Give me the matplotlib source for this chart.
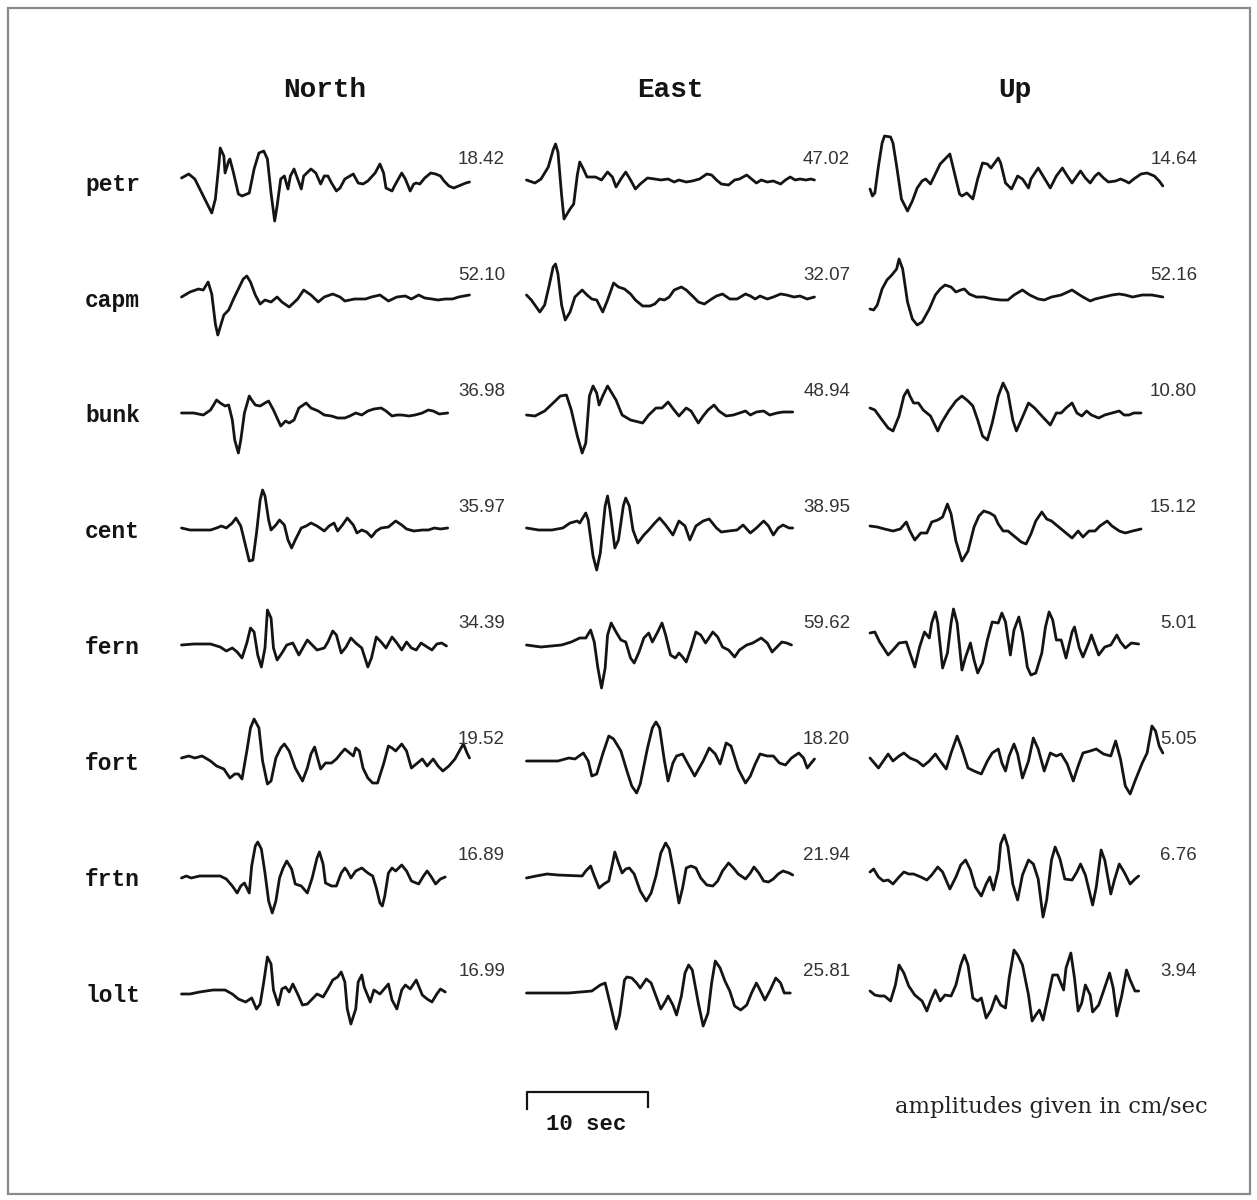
import matplotlib
matplotlib.use("Agg")
import matplotlib.pyplot as plt
from matplotlib.patches import Rectangle

# Ground velocity traces for 8 stations, 3 components.
# Each trace is a list of (time [s], relative amplitude) picks.

STATIONS = ["petr", "capm", "bunk", "cent", "fern", "fort", "frtn", "lolt"]
COMPONENTS = ["North", "East", "Up"]

# peak amplitude of each trace in cm/sec
PEAK_NORTH = ["18.42", "52.10", "36.98", "35.97", "34.39", "19.52", "16.89", "16.99"]
PEAK_EAST = ["47.02", "32.07", "48.94", "38.95", "59.62", "18.20", "21.94", "25.81"]
PEAK_UP = ["14.64", "52.16", "10.80", "15.12", "5.01", "5.05", "6.76", "3.94"]

# ---- North component ----
PETR_N = [(0, 3), (0.6, 7), (1.1, 2), (1.8, -15), (2.5, -32), (2.8, -18), (3.1, 18), (3.2, 33),
          (3.5, 25), (3.6, 8), (3.9, 20), (4.0, 22), (4.3, 8), (4.7, -13), (5.0, -15), (5.6, -12),
          (6.0, 12), (6.4, 28), (6.8, 30), (7.1, 22), (7.4, -12), (7.7, -40), (7.9, -25), (8.2, 2),
          (8.5, 5), (8.8, -8), (9.0, 5), (9.3, 12), (9.6, 2), (9.9, -8), (10.1, 5), (10.7, 12),
          (11.1, 8), (11.5, -3), (11.8, 5), (12.1, 5), (12.4, -2), (12.8, -10), (13.1, -7), (13.5, 2),
          (14.2, 7), (14.6, -2), (15.0, -3), (15.4, 0), (16.0, 8), (16.4, 17), (16.7, 8), (16.9, -7),
          (17.4, -10), (17.6, -5), (18.2, 8), (18.5, 2), (18.9, -10), (19.2, -3), (19.4, -2), (19.7, -3),
          (20.1, 3), (20.6, 8), (21.0, 7), (21.4, 5), (21.7, 0), (22.1, -5), (22.5, -7), (22.9, -5),
          (23.5, -2), (23.8, -1)]
CAPM_N = [(0, 0), (0.7, 5), (1.4, 8), (1.8, 7), (2.2, 15), (2.5, 3), (2.8, -27), (3.0, -38),
          (3.2, -30), (3.5, -18), (3.9, -13), (4.3, -2), (4.7, 8), (5.1, 18), (5.4, 21), (5.7, 15),
          (6.1, 2), (6.5, -7), (6.9, -3), (7.4, -5), (7.9, 0), (8.3, -5), (8.9, -10), (9.6, -2),
          (10.1, 7), (10.7, 2), (11.3, -5), (11.8, 0), (12.5, 3), (13.1, 0), (13.5, -4), (14.3, -2),
          (15.2, -2), (15.7, 0), (16.4, 2), (17.1, -4), (17.8, 0), (18.5, 1), (19.0, -2), (19.6, 2),
          (20.1, -1), (20.7, -2), (21.2, -3), (21.8, -2), (22.4, -2), (22.9, 0), (23.8, 2)]
BUNK_N = [(0, 0), (1.0, 0), (1.8, -2), (2.4, 3), (2.9, 13), (3.2, 10), (3.6, 7), (3.9, 8),
          (4.2, -7), (4.4, -27), (4.7, -40), (4.9, -27), (5.2, 0), (5.6, 17), (5.8, 13), (6.1, 8),
          (6.5, 7), (6.9, 10), (7.2, 12), (7.6, 3), (8.2, -13), (8.6, -8), (8.9, -10), (9.3, -7),
          (9.7, 5), (10.3, 10), (10.7, 5), (11.3, 2), (11.8, -2), (12.4, -3), (12.9, -5), (13.5, -5),
          (13.9, -3), (14.4, 0), (14.9, -2), (15.4, 2), (15.9, 4), (16.5, 5), (16.9, 2), (17.4, -3),
          (17.8, -2), (18.2, -2), (18.8, -3), (19.3, -2), (19.9, 0), (20.4, 3), (20.8, 2), (21.3, -1),
          (22.0, 0)]
CENT_N = [(0, 1), (0.7, -1), (1.2, -1), (2.4, -1), (2.9, 1), (3.3, 3), (3.7, 1), (4.2, 6),
          (4.5, 11), (4.9, 3), (5.3, -17), (5.6, -32), (5.9, -31), (6.2, -4), (6.5, 29), (6.7, 39),
          (6.9, 33), (7.2, 9), (7.4, -1), (7.8, 4), (8.1, 9), (8.5, 4), (8.8, -11), (9.1, -19),
          (9.4, -11), (9.9, 1), (10.3, 3), (10.7, 6), (11.2, 3), (11.8, -2), (12.2, 3), (12.6, 6),
          (12.9, -2), (13.3, 4), (13.7, 11), (14.2, 4), (14.5, -4), (14.9, -1), (15.3, -3), (15.7, -8),
          (16.1, -2), (16.5, 1), (17.1, 2), (17.7, 8), (18.2, 4), (18.6, 0), (19.2, -2), (19.9, -1),
          (20.4, -1), (20.9, 1), (21.4, 0), (22.0, 1)]
FERN_N = [(0, 0), (1.0, 1), (2.4, 1), (3.2, -2), (3.7, -6), (4.2, -3), (4.6, -7), (5.0, -13),
          (5.4, 2), (5.7, 17), (6.0, 13), (6.3, -10), (6.6, -22), (6.9, -3), (7.1, 35), (7.4, 27),
          (7.6, -3), (7.9, -15), (8.3, -8), (8.7, 0), (9.2, 2), (9.7, -10), (10.4, 5), (10.8, 0),
          (11.2, -5), (11.8, -3), (12.1, 3), (12.5, 14), (12.8, 10), (13.2, -8), (13.6, -2), (14.0, 7),
          (14.4, 2), (14.9, -3), (15.4, -22), (15.7, -13), (16.1, 8), (16.5, 3), (16.9, -3), (17.4, 8),
          (17.8, 2), (18.2, -5), (18.6, 3), (19.0, -3), (19.4, -5), (19.8, 2), (20.3, -2), (20.7, -5),
          (21.1, 1), (21.5, 2), (21.9, -1)]
FORT_N = [(0, 3), (0.6, 5), (1.1, 3), (1.7, 5), (2.4, 0), (2.9, -5), (3.5, -8), (4.0, -17),
          (4.4, -13), (4.7, -13), (5.0, -18), (5.4, 10), (5.7, 33), (6.0, 42), (6.4, 33), (6.7, 0),
          (7.1, -23), (7.4, -20), (7.8, 3), (8.2, 13), (8.5, 17), (8.9, 10), (9.4, -7), (10.0, -20),
          (10.4, -7), (10.7, 7), (11.0, 14), (11.2, 5), (11.5, -8), (11.9, -2), (12.4, -2), (12.8, 2),
          (13.2, 8), (13.5, 12), (13.9, 8), (14.2, 5), (14.4, 13), (14.7, 10), (15.0, -7), (15.4, -17),
          (15.8, -22), (16.2, -22), (16.7, -3), (17.1, 15), (17.4, 13), (17.7, 10), (18.2, 17), (18.6, 10),
          (19.0, -7), (19.4, -3), (19.9, 2), (20.3, -5), (20.8, 2), (21.2, -5), (21.6, -10), (22.1, -5),
          (22.6, 2), (23.1, 13), (23.3, 17), (23.6, 8), (23.8, 3)]
FRTN_N = [(0, -1), (0.4, 1), (0.8, -1), (1.5, 1), (3.2, 1), (3.7, -2), (4.2, -9), (4.6, -16),
          (4.9, -9), (5.2, -6), (5.6, -16), (5.8, 11), (6.1, 31), (6.3, 35), (6.6, 28), (6.9, 4),
          (7.2, -24), (7.5, -36), (7.8, -24), (8.1, -1), (8.4, 9), (8.7, 16), (9.1, 8), (9.4, -7),
          (9.9, -9), (10.4, -16), (10.8, -1), (11.2, 19), (11.4, 25), (11.7, 13), (11.9, -6), (12.4, -9),
          (12.8, -9), (13.2, 4), (13.5, 9), (13.7, 6), (14.0, -1), (14.4, 6), (14.9, 9), (15.4, 4),
          (15.8, 1), (16.1, -11), (16.4, -26), (16.6, -29), (16.8, -19), (17.1, 4), (17.4, 9), (17.7, 6),
          (18.2, 12), (18.6, 6), (19.0, -4), (19.6, -7), (20.0, 1), (20.3, 6), (20.6, 1), (21.0, -7),
          (21.4, -2), (21.8, 0)]
LOLT_N = [(0, -1), (0.7, -1), (1.5, 1), (2.6, 3), (3.6, 3), (4.2, -1), (4.7, -6), (5.3, -9),
          (5.8, -5), (6.2, -16), (6.5, -11), (6.8, 11), (7.1, 36), (7.4, 29), (7.6, 3), (8.0, -12),
          (8.3, 4), (8.6, 6), (8.9, 1), (9.2, 9), (9.6, -1), (10.0, -12), (10.4, -11), (10.8, -6),
          (11.2, -1), (11.7, -4), (12.1, 4), (12.5, 13), (12.9, 16), (13.2, 21), (13.5, 11), (13.7, -16),
          (14.0, -31), (14.4, -16), (14.6, 11), (14.9, 18), (15.1, 6), (15.6, -9), (15.9, 3), (16.4, -1),
          (17.1, 9), (17.4, -7), (17.8, -16), (18.2, 3), (18.5, 8), (18.9, 4), (19.4, 13), (19.9, -2),
          (20.3, -6), (20.7, -9), (21.1, -1), (21.4, 4), (21.8, 1)]

# ---- East component ----
PETR_E = [(0, 1), (0.7, -2), (1.2, 2), (1.8, 14), (2.2, 31), (2.4, 37), (2.6, 29), (2.9, -14),
          (3.1, -38), (3.3, -34), (3.6, -28), (3.9, -23), (4.2, 6), (4.4, 19), (4.7, 12), (5.0, 4),
          (5.7, 4), (6.2, 1), (6.7, 9), (7.1, 4), (7.4, -6), (7.8, 2), (8.2, 9), (8.6, 1),
          (9.0, -8), (9.4, -3), (10.0, 3), (10.6, 2), (11.1, 1), (11.7, 2), (12.2, -1), (12.6, 1),
          (13.2, -1), (13.7, 0), (14.3, 2), (14.9, 7), (15.3, 6), (15.7, 1), (16.1, -3), (16.7, -4),
          (17.2, 1), (17.6, 2), (18.2, 6), (18.6, 2), (19.0, -2), (19.4, 1), (19.9, -1), (20.4, 0),
          (21.0, -3), (21.4, 1), (21.8, 4), (22.2, 1), (22.6, 2), (23.1, 1), (23.5, 2), (23.8, 1)]
CAPM_E = [(0, 2), (0.4, -3), (1.1, -15), (1.5, -8), (1.9, 13), (2.2, 30), (2.4, 33), (2.6, 23),
          (2.9, -8), (3.2, -23), (3.6, -15), (4.0, 0), (4.6, 7), (5.0, 2), (5.4, -2), (5.8, -3),
          (6.3, -15), (6.7, -3), (7.2, 14), (7.6, 10), (8.1, 8), (8.6, 3), (9.0, -3), (9.6, -9),
          (10.2, -9), (10.6, -7), (11.0, -2), (11.4, -3), (11.8, 0), (12.2, 7), (12.8, 10), (13.2, 7),
          (13.8, 0), (14.2, -5), (14.7, -7), (15.3, -2), (15.7, 1), (16.2, 3), (16.8, -2), (17.4, -2),
          (18.1, 3), (18.5, 1), (18.9, -2), (19.3, 1), (19.9, -2), (20.4, 0), (21.0, 3), (21.5, 2),
          (22.1, 0), (22.6, 1), (23.2, -2), (23.8, 0)]
BUNK_E = [(0, -2), (0.7, -3), (1.5, 2), (2.2, 10), (2.8, 17), (3.3, 18), (3.7, 3), (4.2, -23),
          (4.6, -40), (4.9, -30), (5.2, 17), (5.5, 27), (5.8, 20), (6.0, 8), (6.3, 17), (6.7, 27),
          (6.9, 23), (7.4, 13), (7.9, -2), (8.6, -7), (9.6, -10), (10.1, -2), (10.7, 5), (11.2, 5),
          (11.7, 11), (12.2, 3), (12.6, -3), (13.2, 5), (13.6, 2), (14.2, -10), (14.6, -3), (15.0, 3),
          (15.5, 8), (15.9, 2), (16.5, -3), (17.1, -2), (17.6, 0), (18.1, 2), (18.5, -2), (19.0, 1),
          (19.6, 2), (20.1, -2), (20.7, 0), (21.2, 1), (22.0, 1)]
CENT_E = [(0, 1), (1.0, -1), (2.1, -1), (3.0, 1), (3.6, 6), (4.2, 8), (4.4, 6), (4.9, 16),
          (5.1, 9), (5.5, -27), (5.8, -41), (6.1, -24), (6.5, 23), (6.7, 33), (6.9, 19), (7.3, -19),
          (7.6, -11), (8.0, 23), (8.2, 31), (8.5, 23), (8.8, -1), (9.2, -14), (9.7, -6), (10.1, -1),
          (10.6, 6), (11.0, 11), (11.5, 4), (12.1, -6), (12.6, 8), (13.1, 3), (13.5, -11), (14.0, 3),
          (14.6, 8), (15.1, 10), (15.7, 1), (16.1, -3), (16.7, -2), (17.4, -1), (17.9, 4), (18.5, -4),
          (19.0, 1), (19.6, 8), (20.0, 3), (20.4, -6), (20.8, 1), (21.2, 4), (21.7, 1), (22.0, 1)]
FERN_E = [(0, 0), (1.2, -2), (2.9, 0), (3.7, 3), (4.4, 7), (4.9, 7), (5.3, 15), (5.6, 3),
          (5.9, -23), (6.2, -43), (6.5, -23), (6.7, 10), (7.0, 22), (7.4, 13), (7.8, 5), (8.2, 3),
          (8.6, -13), (8.9, -18), (9.3, -7), (9.7, 7), (10.1, 12), (10.4, 3), (10.8, 12), (11.2, 22),
          (11.5, 10), (11.9, -10), (12.3, -13), (12.6, -8), (12.9, -12), (13.2, -17), (13.6, -3), (14.0, 13),
          (14.4, 10), (14.8, 2), (15.4, 13), (15.8, 8), (16.2, -2), (16.7, -5), (17.2, -12), (17.6, -5),
          (18.2, 0), (18.7, 2), (19.4, 7), (19.9, 2), (20.3, -7), (20.7, -2), (21.1, 3), (21.5, 2),
          (21.9, 0)]
FORT_E = [(0, 0), (1.2, 0), (2.6, 0), (3.5, 3), (4.0, 2), (4.7, 8), (5.1, 0), (5.4, -15),
          (5.8, -13), (6.3, 7), (6.8, 25), (7.2, 22), (7.8, 10), (8.3, -10), (8.7, -25), (9.1, -32),
          (9.4, -23), (10.0, 13), (10.4, 33), (10.7, 39), (11.0, 33), (11.4, 0), (11.7, -20), (12.1, -2),
          (12.4, 5), (12.9, 7), (13.3, -2), (13.9, -15), (14.6, 0), (15.1, 13), (15.6, 7), (16.0, -3),
          (16.5, 18), (16.9, 15), (17.5, -8), (18.1, -22), (18.5, -15), (18.9, -3), (19.3, 7), (19.9, 5),
          (20.4, 5), (20.9, -2), (21.4, -4), (21.9, 3), (22.5, 8), (22.9, 3), (23.2, -7), (23.8, 2)]
FRTN_E = [(0, -1), (0.8, 1), (1.7, 3), (2.6, 2), (4.6, 1), (4.9, 6), (5.3, 11), (5.6, 1),
          (6.0, -11), (6.4, -7), (6.8, -4), (7.1, 13), (7.3, 25), (7.6, 14), (7.9, 4), (8.2, 8),
          (8.5, 9), (8.9, 3), (9.4, -14), (9.9, -24), (10.3, -16), (10.7, 1), (11.1, 24), (11.5, 34),
          (11.8, 28), (12.1, 9), (12.4, -12), (12.6, -26), (12.9, -11), (13.2, 9), (13.6, 11), (14.0, 9),
          (14.4, -1), (14.9, -8), (15.4, -9), (15.8, -4), (16.2, 6), (16.7, 14), (17.1, 9), (17.5, 3),
          (18.1, -2), (18.5, 4), (18.8, 10), (19.2, 4), (19.6, -4), (20.0, -5), (20.4, -2), (20.8, 3),
          (21.2, 6), (21.7, 4), (22.0, 2)]
LOLT_E = [(0, 0), (1.8, 0), (3.5, 0), (5.4, 2), (6.1, 8), (6.5, 10), (6.9, -10), (7.4, -36),
          (7.7, -22), (8.1, 13), (8.3, 16), (8.7, 15), (9.1, 10), (9.4, 5), (9.9, 14), (10.3, 10),
          (10.7, -3), (11.1, -16), (11.5, -8), (11.7, -3), (12.1, -12), (12.4, -22), (12.8, -3), (13.1, 20),
          (13.4, 28), (13.7, 23), (14.2, -10), (14.6, -33), (15.0, -20), (15.3, 10), (15.6, 32), (16.0, 25),
          (16.4, 12), (16.8, 2), (17.2, -13), (17.7, -17), (18.2, -12), (18.6, 0), (19.0, 10), (19.3, 3),
          (19.7, -7), (20.1, 2), (20.6, 15), (21.0, 10), (21.3, 0), (21.8, 0)]

# ---- Up component ----
PETR_U = [(0, -8), (0.2, -15), (0.4, -12), (0.7, 15), (1.0, 38), (1.2, 45), (1.7, 44), (1.9, 38),
          (2.2, 15), (2.6, -18), (3.1, -30), (3.5, -20), (3.9, -7), (4.3, 0), (4.6, 2), (5.0, -3),
          (5.4, 7), (5.8, 17), (6.2, 22), (6.6, 27), (6.9, 12), (7.4, -13), (7.6, -15), (8.0, -12),
          (8.5, -18), (8.9, 2), (9.3, 18), (9.7, 17), (10.0, 13), (10.6, 23), (10.8, 18), (11.2, -2),
          (11.7, -8), (12.2, 5), (12.6, 2), (13.1, -7), (13.3, 2), (13.9, 13), (14.3, 5), (14.9, -7),
          (15.4, 5), (15.9, 13), (16.2, 7), (16.7, -2), (17.1, 5), (17.4, 10), (17.8, 3), (18.2, -2),
          (18.6, 5), (18.9, 8), (19.3, 3), (19.7, -1), (20.3, 0), (20.7, 2), (21.1, 0), (21.4, -2),
          (21.8, 2), (22.4, 7), (22.9, 8), (23.5, 5), (23.9, 0), (24.2, -5)]
CAPM_U = [(0, -12), (0.3, -13), (0.6, -8), (1.0, 8), (1.4, 17), (1.8, 22), (2.2, 28), (2.4, 38),
          (2.7, 28), (3.1, -5), (3.5, -22), (3.9, -28), (4.3, -25), (4.9, -12), (5.4, 2), (5.8, 8),
          (6.2, 12), (6.7, 10), (7.1, 5), (7.5, 7), (7.8, 8), (8.2, 3), (8.8, 0), (9.4, 0),
          (10.1, -2), (10.8, -3), (11.4, -3), (11.9, 2), (12.6, 7), (13.2, 2), (13.9, -2), (14.4, -3),
          (15.0, 0), (15.8, 2), (16.7, 7), (17.2, 3), (17.6, 0), (18.2, -4), (18.6, -2), (19.3, 0),
          (20.0, 2), (20.6, 3), (21.1, 2), (21.7, 0), (22.5, 2), (23.3, 2), (24.2, 0)]
BUNK_U = [(0, 5), (0.4, 3), (1.0, -7), (1.5, -15), (1.9, -18), (2.4, -3), (2.8, 17), (3.1, 23),
          (3.3, 17), (3.6, 10), (4.0, 10), (4.4, 3), (5.0, -3), (5.6, -18), (5.9, -10), (6.5, 2),
          (7.1, 12), (7.6, 17), (8.1, 12), (8.5, 7), (8.9, -7), (9.3, -23), (9.7, -27), (10.1, -10),
          (10.6, 17), (11.0, 30), (11.4, 20), (11.8, -7), (12.1, -18), (12.5, -7), (13.1, 10), (13.6, 5),
          (14.2, -3), (14.9, -12), (15.4, 0), (15.8, 0), (16.2, 5), (16.7, 10), (17.1, 0), (17.5, -3),
          (17.9, 2), (18.3, -2), (18.9, -5), (19.4, -2), (20.0, 0), (20.6, 2), (21.0, -2), (21.4, -2),
          (21.8, 0), (22.4, 0)]
CENT_U = [(0, 3), (0.6, 2), (1.2, 0), (1.9, -2), (2.5, 0), (3.0, 7), (3.3, -2), (3.7, -11),
          (4.2, -4), (4.7, -4), (5.1, 7), (5.6, 9), (6.0, 12), (6.4, 25), (6.7, 15), (7.1, -12),
          (7.6, -32), (8.1, -22), (8.6, 2), (9.0, 13), (9.4, 18), (9.9, 16), (10.3, 13), (10.6, 5),
          (11.0, -2), (11.4, -2), (12.0, -8), (12.5, -13), (12.9, -15), (13.3, -5), (13.7, 8), (14.2, 17),
          (14.6, 10), (15.0, 8), (15.6, 2), (16.1, -3), (16.7, -9), (17.2, -2), (17.6, -8), (18.1, -2),
          (18.6, -2), (19.0, 3), (19.6, 8), (20.0, 3), (20.6, -2), (21.1, -4), (21.7, -2), (22.4, 0)]
FERN_U = [(0, 12), (0.4, 13), (0.8, 3), (1.5, -10), (1.9, -5), (2.4, 2), (3.0, 3), (3.3, -8),
          (3.7, -22), (4.1, -2), (4.5, 13), (4.9, 7), (5.1, 22), (5.4, 33), (5.6, 22), (6.0, -23),
          (6.4, -8), (6.7, 22), (6.9, 36), (7.2, 22), (7.6, -25), (7.9, -12), (8.3, 2), (8.6, -15),
          (8.9, -28), (9.3, -18), (9.7, 5), (10.1, 23), (10.6, 22), (10.9, 32), (11.2, 23), (11.6, -10),
          (11.9, 15), (12.3, 28), (12.6, 12), (13.0, -22), (13.3, -30), (13.7, -28), (14.2, -8), (14.5, 18),
          (14.8, 33), (15.1, 25), (15.4, 5), (15.8, 5), (16.2, -13), (16.7, 13), (16.9, 18), (17.3, -3),
          (17.6, -12), (18.1, 3), (18.3, 10), (18.6, 0), (18.9, -10), (19.4, -2), (19.9, 0), (20.4, 10),
          (20.7, 3), (21.1, -3), (21.6, 2), (22.2, 1)]
FORT_U = [(0, 3), (0.7, -7), (1.1, 0), (1.5, 7), (1.9, 0), (2.4, 5), (2.8, 8), (3.3, 3),
          (3.9, 0), (4.4, -5), (4.9, 0), (5.4, 7), (5.8, 0), (6.3, -8), (6.7, 8), (7.2, 25),
          (7.6, 12), (8.1, -7), (8.6, -10), (9.2, -13), (9.7, 0), (10.1, 8), (10.6, 12), (10.9, -2),
          (11.2, -10), (11.5, 5), (11.9, 17), (12.2, 7), (12.6, -17), (13.1, 0), (13.5, 23), (13.9, 12),
          (14.4, -10), (14.9, 8), (15.4, 5), (15.8, 7), (16.3, -3), (16.8, -20), (17.2, -5), (17.6, 8),
          (18.2, 10), (18.7, 12), (19.3, 7), (19.9, 5), (20.3, 20), (20.7, 2), (21.1, -25), (21.5, -33),
          (21.9, -20), (22.5, -2), (22.9, 8), (23.3, 35), (23.6, 30), (23.9, 15), (24.2, 8)]
FRTN_U = [(0, 5), (0.3, 8), (0.7, 0), (1.1, -4), (1.5, -3), (1.9, -7), (2.4, 0), (2.8, 5),
          (3.2, 3), (3.6, 3), (4.2, 0), (4.7, -3), (5.1, 2), (5.6, 10), (6.0, 5), (6.6, -12),
          (7.1, 0), (7.5, 12), (7.9, 17), (8.3, 7), (8.7, -10), (9.2, -19), (9.6, -7), (9.9, 0),
          (10.2, -13), (10.6, 7), (10.8, 33), (11.1, 42), (11.4, 30), (11.8, -7), (12.2, -23), (12.6, 2),
          (13.1, 17), (13.5, 13), (13.9, -2), (14.3, -40), (14.6, -23), (15.0, 17), (15.3, 30), (15.7, 18),
          (16.1, -2), (16.7, -3), (17.1, 5), (17.4, 13), (17.8, 2), (18.4, -28), (18.7, -10), (19.1, 27),
          (19.4, 17), (19.9, -17), (20.2, -3), (20.6, 13), (21.0, 5), (21.5, -7), (21.9, -2), (22.2, 1)]
LOLT_U = [(0, 2), (0.4, -2), (0.8, -3), (1.2, -3), (1.7, -8), (2.1, 8), (2.4, 28), (2.8, 20),
          (3.2, 7), (3.7, -2), (4.3, -8), (4.7, -18), (5.0, -8), (5.4, 3), (5.8, -8), (6.2, -2),
          (6.7, -3), (7.1, 8), (7.5, 28), (7.8, 38), (8.1, 28), (8.5, -5), (8.9, -8), (9.2, -5),
          (9.6, -25), (10.0, -17), (10.4, -3), (10.8, -12), (11.2, -15), (11.5, 15), (11.9, 43), (12.2, 38),
          (12.6, 28), (13.1, -2), (13.4, -28), (13.7, -22), (14.0, -17), (14.3, -27), (14.7, -5), (15.1, 18),
          (15.5, 18), (16.0, 3), (16.2, 25), (16.6, 40), (16.9, 15), (17.2, -18), (17.5, -10), (17.8, 8),
          (18.2, -2), (18.4, -19), (18.9, -12), (19.3, 2), (19.8, 20), (20.1, 5), (20.4, -23), (20.8, -3),
          (21.2, 23), (21.5, 13), (21.9, 2), (22.2, 2)]

TRACES = {
    "North": [PETR_N, CAPM_N, BUNK_N, CENT_N, FERN_N, FORT_N, FRTN_N, LOLT_N],
    "East": [PETR_E, CAPM_E, BUNK_E, CENT_E, FERN_E, FORT_E, FRTN_E, LOLT_E],
    "Up": [PETR_U, CAPM_U, BUNK_U, CENT_U, FERN_U, FORT_U, FRTN_U, LOLT_U],
}
PEAKS = {"North": PEAK_NORTH, "East": PEAK_EAST, "Up": PEAK_UP}

# ---- layout (pixels of the 1257x1200 canvas) ----
W, H = 1257, 1200
COL_X = [181.5, 526.5, 870]       # left edge of each component column
COL_LABEL_RIGHT = [505, 850, 1197]
TITLE_X = [325, 670, 1015]
ROW_Y0, ROW_STEP = 181, 116
PX_PER_SEC = 12.1
SPAN_SEC = 27
AMP_HALF = 55
INK = "#141414"


def fx(px):
    return px / W


def fy(py):
    return 1 - py / H


fig = plt.figure(figsize=(W / 100, H / 100), dpi=100)
fig.patch.set_facecolor("white")

for c, comp in enumerate(COMPONENTS):
    fig.text(fx(TITLE_X[c]), fy(90), comp, ha="center", va="center",
             family="Liberation Mono", weight="bold", fontsize=20, color=INK)
    for r, station in enumerate(STATIONS):
        base = ROW_Y0 + r * ROW_STEP
        ax = fig.add_axes([fx(COL_X[c]), fy(base + AMP_HALF),
                           fx(SPAN_SEC * PX_PER_SEC), 2 * AMP_HALF / H])
        ax.set_xlim(0, SPAN_SEC)
        ax.set_ylim(-AMP_HALF, AMP_HALF)
        ax.axis("off")
        t, a = zip(*TRACES[comp][r])
        ax.plot(t, a, color=INK, lw=2.0, solid_joinstyle="round",
                solid_capstyle="round", clip_on=False)
        fig.text(fx(COL_LABEL_RIGHT[c]), fy(base - 21), PEAKS[comp][r],
                 ha="right", va="center", family="Liberation Sans",
                 fontsize=13.5, color="#333333")

# station names
for r, station in enumerate(STATIONS):
    base = ROW_Y0 + r * ROW_STEP
    fig.text(fx(85), fy(base + 3), station, ha="left", va="center",
             family="Liberation Mono", weight="bold", fontsize=16.5, color=INK)

# 10 second scale bar, drawn on the same time scale as the traces
SCALE_SEC = 10
bar_ax = fig.add_axes([fx(COL_X[1]), fy(1092 + 20), fx(SPAN_SEC * PX_PER_SEC), 40 / H])
bar_ax.set_xlim(0, SPAN_SEC)
bar_ax.set_ylim(-20, 20)
bar_ax.axis("off")
bar_ax.plot([0, 0, SCALE_SEC, SCALE_SEC], [-17, 0, 0, -15], color=INK, lw=1.6,
            clip_on=False)
fig.text(fx(586), fy(1125), "10 sec", ha="center", va="center",
         family="Liberation Mono", weight="bold", fontsize=16, color=INK)

fig.text(fx(1208), fy(1107), "amplitudes given in cm/sec", ha="right", va="center",
         family="DejaVu Serif", fontsize=16.3, color="#222222")

# outer frame
fig.patches.append(Rectangle((fx(8), fy(1194)), fx(1242), 1186 / H,
                             transform=fig.transFigure, fill=False,
                             edgecolor="#8a8a8a", lw=1.6))

fig.savefig("out.png", dpi=100, facecolor="white")
